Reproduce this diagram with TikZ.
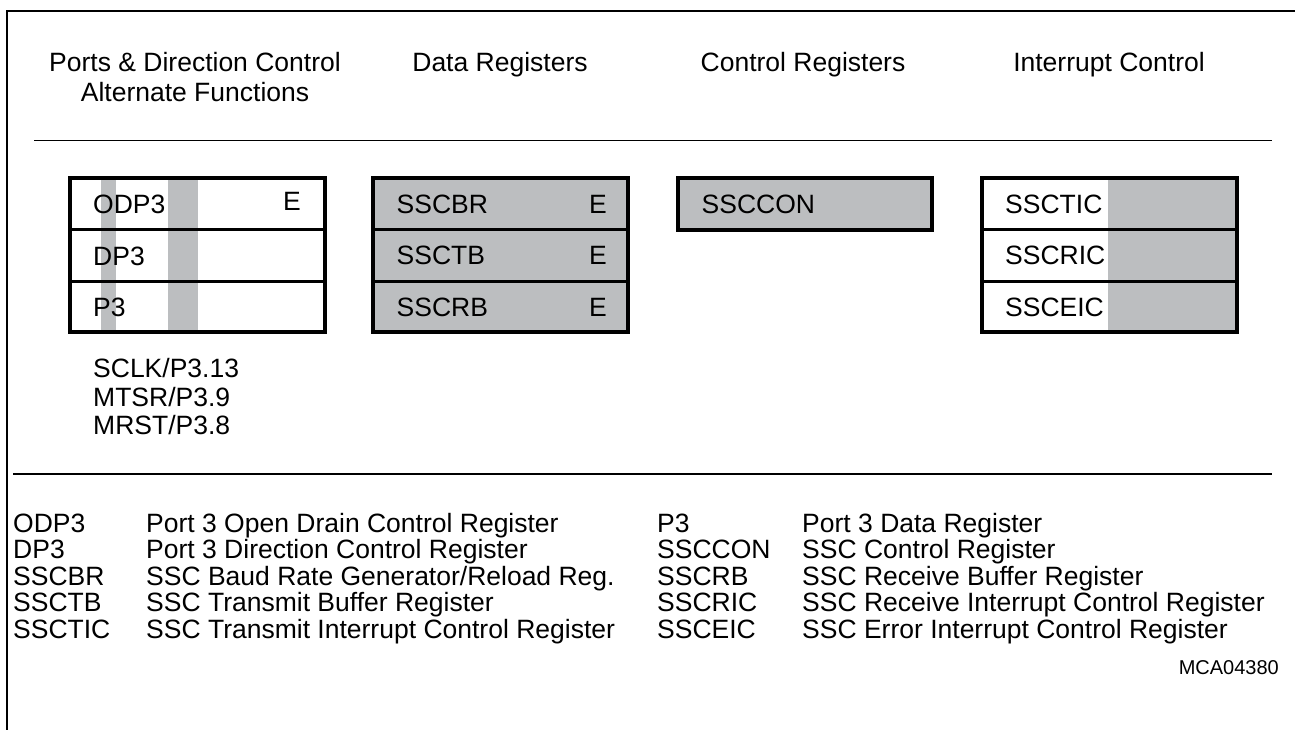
\documentclass[tikz,border=0pt]{standalone}
\usepackage{fontspec}
\setmainfont{Liberation Sans}
\definecolor{regfill}{RGB}{188,190,192}
\tikzset{
  head/.style={font=\fontsize{26.5}{30}\selectfont, inner sep=0pt, anchor=base},
  boxtxt/.style={font=\fontsize{26.5}{30}\selectfont, inner sep=0pt, anchor=base west},
  pintxt/.style={font=\fontsize{26.5}{30}\selectfont, inner sep=0pt, anchor=base west},
  legtxt/.style={font=\fontsize{26.5}{28}\selectfont, inner sep=0pt, anchor=base west},
  idtxt/.style={font=\fontsize{20}{22}\selectfont, inner sep=0pt, anchor=base east},
  frame/.style={line width=2pt},
  rule/.style={line width=1.6pt},
  regborder/.style={line width=4pt, line join=miter},
  regdiv/.style={line width=3pt},
}
\begin{document}
\begin{tikzpicture}[x=1pt,y=-1pt]
\useasboundingbox (0,0) rectangle (1295,730);
% frame
\coordinate (fbl) at (7,731);
\coordinate (ftl) at (7,11);
\coordinate (ftr) at (1296,11);
\draw[frame] (fbl) -- (ftl) -- (ftr);
% headings
\node[head] (h1) at (195,72) {Ports \& Direction Control};
\node[head] (h1b) at (195,102) {Alternate Functions};
\node[head] (h2) at (500,72) {Data Registers};
\node[head] (h3) at (803,72) {Control Registers};
\node[head] (h4) at (1109,72) {Interrupt Control};
% rules
\coordinate (r1a) at (34,140.5);
\coordinate (r1b) at (1272,140.5);
\draw[rule] (r1a) -- (r1b);
\coordinate (r2a) at (13,474);
\coordinate (r2b) at (1272,474);
\draw[rule] (r2a) -- (r2b);

% group 1: ports
\fill[regfill] (101,178) rectangle (115.5,332);
\fill[regfill] (168,178) rectangle (197.5,332);
\draw[regdiv] (70,229.5) -- (325,229.5);
\draw[regdiv] (70,281) -- (325,281);
\draw[regborder] (70,178) rectangle (325,332);
\node[boxtxt] (odp3) at (93,213.5) {ODP3};
\node[boxtxt] (odp3e) at (283,211) {E};
\node[boxtxt] (dp3) at (93,265) {DP3};
\node[boxtxt] (p3) at (93,316.5) {P3};

% group 2: data registers
\fill[regfill] (373,178) rectangle (628,332);
\draw[regdiv] (373,229.5) -- (628,229.5);
\draw[regdiv] (373,281) -- (628,281);
\draw[regborder] (373,178) rectangle (628,332);
\node[boxtxt] (sscbr) at (396.5,214) {SSCBR};
\node[boxtxt] (sscbre) at (589,214) {E};
\node[boxtxt] (ssctb) at (396.5,264.5) {SSCTB};
\node[boxtxt] (ssctbe) at (589,264.5) {E};
\node[boxtxt] (sscrb) at (396.5,316.5) {SSCRB};
\node[boxtxt] (sscrbe) at (589,316.5) {E};

% group 3: control register
\fill[regfill] (678,178) rectangle (932,230);
\draw[regborder] (678,178) rectangle (932,230);
\node[boxtxt] (ssccon) at (701.5,214) {SSCCON};

% group 4: interrupt control
\fill[regfill] (1107.5,178) rectangle (1237,332);
\draw[regdiv] (982,229.5) -- (1237,229.5);
\draw[regdiv] (982,281) -- (1237,281);
\draw[regborder] (982,178) rectangle (1237,332);
\node[boxtxt] (ssctic) at (1005,214) {SSCTIC};
\node[boxtxt] (sscric) at (1005,264.5) {SSCRIC};
\node[boxtxt] (ssceic) at (1005,316.5) {SSCEIC};

% pins
\node[pintxt] (pin1) at (93,377.5) {SCLK/P3.13};
\node[pintxt] (pin2) at (93,406) {MTSR/P3.9};
\node[pintxt] (pin3) at (93,434.5) {MRST/P3.8};

% legend
\foreach \ab/\de/\ro [count=\i] in {
  ODP3/Port 3 Open Drain Control Register/0,
  DP3/Port 3 Direction Control Register/1,
  SSCBR/SSC Baud Rate Generator\slash Reload Reg./2,
  SSCTB/SSC Transmit Buffer Register/3,
  SSCTIC/SSC Transmit Interrupt Control Register/4}{
  \node[legtxt] (la\i) at (13,{532+26.5*\ro}) {\ab};
  \node[legtxt] (ld\i) at (146,{532+26.5*\ro}) {\de};
}
\foreach \ab/\de/\ro [count=\i] in {
  P3/Port 3 Data Register/0,
  SSCCON/SSC Control Register/1,
  SSCRB/SSC Receive Buffer Register/2,
  SSCRIC/SSC Receive Interrupt Control Register/3,
  SSCEIC/SSC Error Interrupt Control Register/4}{
  \node[legtxt] (ra\i) at (657,{532+26.5*\ro}) {\ab};
  \node[legtxt] (rd\i) at (802,{532+26.5*\ro}) {\de};
}
\node[idtxt] (mca) at (1279,674) {MCA04380};
\end{tikzpicture}
\end{document}
